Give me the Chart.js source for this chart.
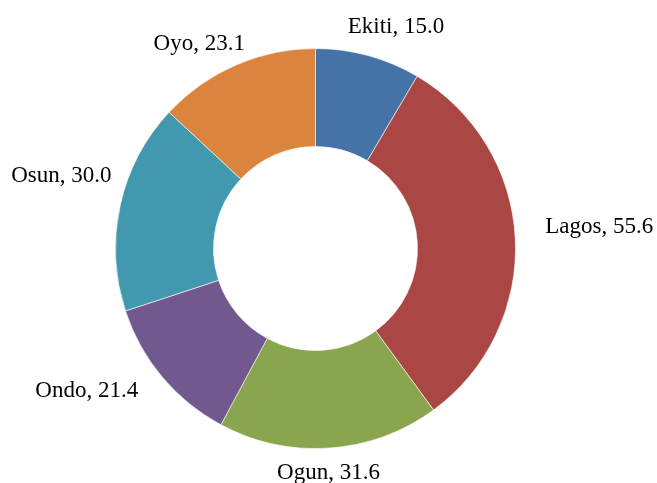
<!DOCTYPE html>
<html>
<head>
<meta charset="utf-8">
<script src="https://cdn.jsdelivr.net/npm/chart.js@4"></script>
<style>
    body { margin: 0; background: #fff; }
</style>
</head>
<body>
<canvas id="chart" width="657" height="483"></canvas>
<script>
const states = ['Ekiti', 'Lagos', 'Ogun', 'Ondo', 'Osun', 'Oyo'];
const values = [15.0, 55.6, 31.6, 21.4, 30.0, 23.1];
const sliceColors = ['#4572A7', '#AA4643', '#89A54E', '#71588F', '#4198AF', '#DB843D'];

// small hand nudges so labels sit where the original put them
const labelNudge = [[13, -10], [22, -11], [-5, 6], [-30, 2], [-2, -26], [-15, -4]];

const outsideLabels = {
    id: 'outsideLabels',
    afterDatasetsDraw(chart) {
        const ctx = chart.ctx;
        const meta = chart.getDatasetMeta(0);
        ctx.save();
        ctx.font = '23px "Liberation Serif", "Times New Roman", serif';
        ctx.fillStyle = '#000';
        ctx.textAlign = 'center';
        ctx.textBaseline = 'middle';
        meta.data.forEach((arc, i) => {
            const p = arc.getProps(['x', 'y', 'startAngle', 'endAngle', 'outerRadius'], true);
            const mid = (p.startAngle + p.endAngle) / 2;
            const ux = Math.cos(mid);
            const uy = Math.sin(mid);
            const text = states[i] + ', ' + values[i].toFixed(1);
            const w = ctx.measureText(text).width;
            const h = 22;
            const r = p.outerRadius + 8;
            const x = p.x + r * ux + (w / 2) * ux + labelNudge[i][0];
            const y = p.y + r * uy + (h / 2) * uy + labelNudge[i][1];
            ctx.fillText(text, x, y);
        });
        ctx.restore();
    }
};

new Chart(document.getElementById('chart'), {
    type: 'doughnut',
    data: {
        labels: states,
        datasets: [{
            data: values,
            backgroundColor: sliceColors,
            borderColor: 'rgba(255, 255, 255, 0.6)',
            borderWidth: 1
        }]
    },
    options: {
        responsive: false,
        animation: false,
        cutout: '51%',
        layout: {
            padding: { top: 48, bottom: 34, left: 115, right: 141 }
        },
        plugins: {
            legend: { display: false },
            tooltip: { enabled: false }
        }
    },
    plugins: [outsideLabels]
});
</script>
</body>
</html>
